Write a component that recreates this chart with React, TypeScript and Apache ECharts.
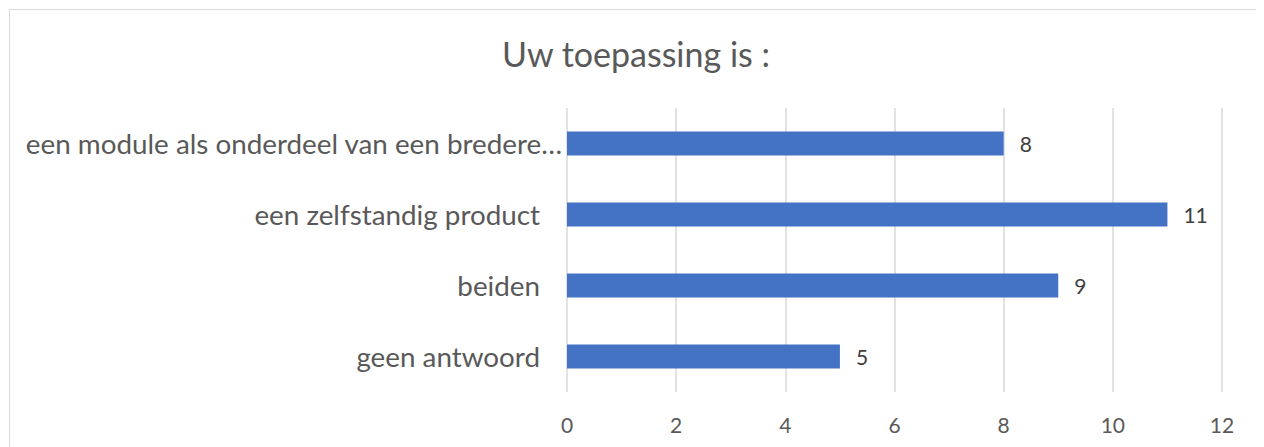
import React, { useEffect, useRef } from "react";
import * as echarts from "echarts";

const title = "Uw toepassing is :";
const categories = [
  "een module als onderdeel van een bredere…",
  "een zelfstandig product",
  "beiden",
  "geen antwoord",
];
const values = [8, 11, 9, 5];
const xTicks = { min: 0, max: 12, interval: 2 };

const FONT = "Lato";
const TEXT = "#595959";

export default function App() {
  const ref = useRef<HTMLDivElement>(null);
  useEffect(() => {
    if (!ref.current) return;
    document.documentElement.style.overflow = "hidden";
    document.body.style.overflow = "hidden";
    const chart = echarts.init(ref.current, null, { renderer: "svg" });
    chart.setOption({
      animation: false,
      backgroundColor: "#ffffff",
      title: {
        text: title,
        left: "center",
        top: 21,
        textStyle: { fontFamily: FONT, fontSize: 34, fontWeight: "normal", color: TEXT },
      },
      grid: { left: 557, right: 40, top: 98, bottom: 58, containLabel: false },
      xAxis: {
        type: "value",
        min: xTicks.min,
        max: xTicks.max,
        interval: xTicks.interval,
        axisLine: { show: false },
        axisTick: { show: false },
        axisLabel: { fontFamily: FONT, fontSize: 21, color: TEXT, margin: 22 },
        splitLine: { show: true, lineStyle: { color: "#d9d9d9", width: 1.5 } },
      },
      yAxis: {
        type: "category",
        inverse: true,
        data: categories,
        axisLine: { show: false },
        axisTick: { show: false },
        axisLabel: {
          margin: 5,
          formatter: (v: string, i: number) => (i === 0 ? `{a|${v}}` : `{b|${v}}`),
          rich: {
            a: { fontFamily: FONT, fontSize: 27.8, color: TEXT },
            b: { fontFamily: FONT, fontSize: 27.8, color: TEXT, padding: [0, 22, 0, 0] },
          },
        },
      },
      series: [
        {
          type: "bar",
          data: values,
          barWidth: 24,
          itemStyle: { color: "#4472C4" },
          label: {
            show: true,
            position: "right",
            distance: 16,
            fontFamily: FONT,
            fontSize: 21,
            color: "#404040",
          },
        },
      ],
    });
    return () => chart.dispose();
  }, []);
  return (
    <div
      ref={ref}
      style={{
        width: 1252,
        height: 440,
        border: "1px solid #d9d9d9",
        margin: "1px 0 0 1px",
      }}
    />
  );
}
